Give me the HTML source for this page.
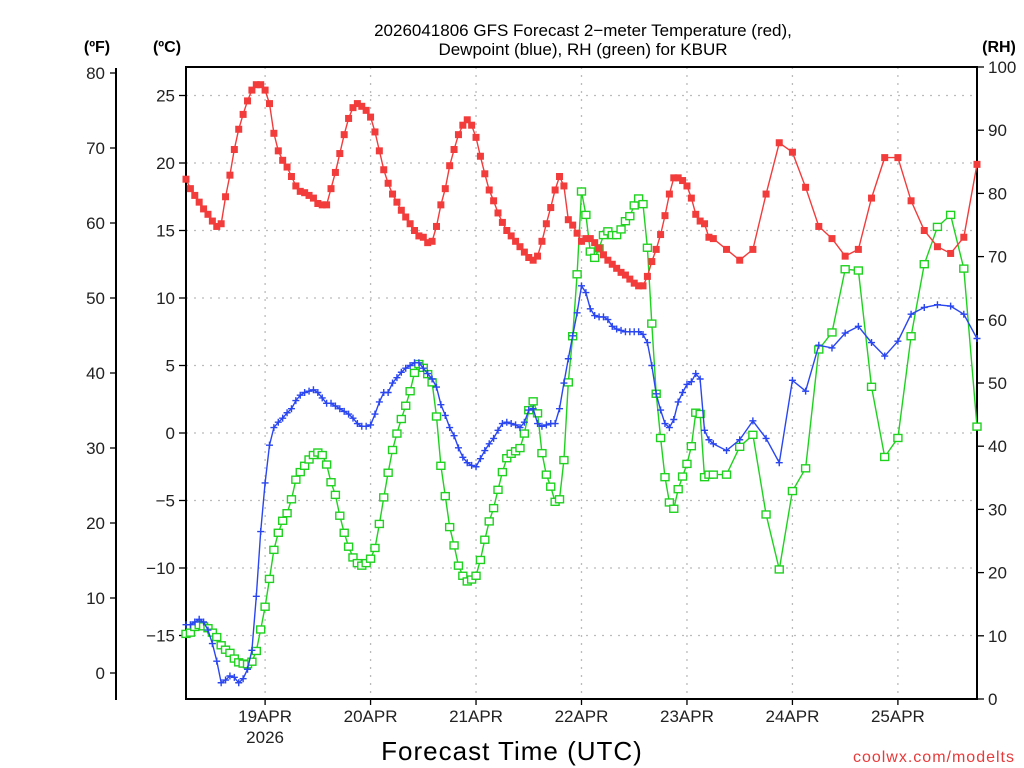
<!DOCTYPE html>
<html><head><meta charset="utf-8"><style>
html,body{margin:0;padding:0;background:#fff;}
svg{display:block;font-family:"Liberation Sans",sans-serif;}
</style></head><body>
<svg id="chart" width="1024" height="768" viewBox="0 0 1024 768" xmlns="http://www.w3.org/2000/svg">
<text x="583" y="36" font-size="17" text-anchor="middle">2026041806 GFS Forecast 2−meter Temperature (red),</text>
<text x="583" y="55" font-size="17" text-anchor="middle">Dewpoint (blue), RH (green) for KBUR</text>
<text x="97" y="52" font-size="16" font-weight="bold" text-anchor="middle">(ºF)</text>
<text x="167" y="52" font-size="16" font-weight="bold" text-anchor="middle">(ºC)</text>
<text x="999" y="52" font-size="16" font-weight="bold" text-anchor="middle">(RH)</text>
<text x="512" y="760" font-size="26" text-anchor="middle" letter-spacing="1">Forecast Time (UTC)</text>
<text x="1015" y="762" font-size="16" fill="#e83a3a" text-anchor="end" letter-spacing="1">coolwx.com/modelts</text>
<g id="grid"></g><g id="axes"></g><g id="series"></g>
</svg>
<script>
const hours=[0,1,2,3,4,5,6,7,8,9,10,11,12,13,14,15,16,17,18,19,20,21,22,23,24,25,26,27,28,29,30,31,32,33,34,35,36,37,38,39,40,41,42,43,44,45,46,47,48,49,50,51,52,53,54,55,56,57,58,59,60,61,62,63,64,65,66,67,68,69,70,71,72,73,74,75,76,77,78,79,80,81,82,83,84,85,86,87,88,89,90,91,92,93,94,95,96,97,98,99,100,101,102,103,104,105,106,107,108,109,110,111,112,113,114,115,116,117,118,119,120,123,126,129,132,135,138,141,144,147,150,153,156,159,162,165,168,171,174,177,180];
const tempC=[18.8,18.1,17.6,17.1,16.6,16.2,15.7,15.3,15.5,17.5,19.1,21.0,22.5,23.6,24.6,25.4,25.8,25.8,25.4,24.4,22.2,20.9,20.2,19.7,19.0,18.3,17.9,17.8,17.6,17.4,17.0,16.9,16.9,18.1,19.3,20.7,22.1,23.3,24.1,24.4,24.2,23.9,23.4,22.3,
20.9,19.5,18.5,17.7,17.1,16.5,16.0,15.5,15.0,14.6,14.5,14.1,14.2,15.3,16.9,18.1,19.8,21.0,22.1,22.8,23.2,22.8,21.9,20.5,19.2,18.0,17.2,16.3,15.6,15.0,14.6,14.2,13.8,13.4,13.0,12.8,13.1,14.2,15.5,16.7,18.0,19.0,18.3,15.8,
15.4,14.8,14.2,14.4,14.4,14.1,13.7,13.2,12.8,12.5,12.2,11.9,11.7,11.4,11.1,10.9,10.9,11.6,12.7,13.6,14.7,16.1,17.7,18.9,18.9,18.7,18.3,17.4,16.2,15.7,15.5,14.5,14.4,
13.6,12.8,13.6,17.7,21.5,20.8,18.2,15.3,14.4,13.1,13.6,17.4,20.4,20.4,17.2,15.0,13.8,13.3,14.5,19.9];
const dewC=[-14.2,-14.2,-14.0,-13.8,-14.0,-14.6,-15.6,-16.9,-18.5,-18.3,-18.0,-18.1,-18.5,-18.2,-17.5,-16.1,-12.1,-7.3,-3.7,-0.9,0.4,0.8,1.1,1.5,1.8,2.4,2.8,3.0,3.1,3.2,3.0,2.6,2.2,2.2,2.0,1.8,1.6,1.4,1.1,0.7,0.5,0.5,0.6,1.4,2.3,3.0,
3.0,3.7,4.1,4.5,4.8,5.0,5.2,5.2,4.8,4.4,4.0,3.4,2.1,1.3,0.4,-0.2,-1.1,-1.8,-2.2,-2.4,-2.5,-1.9,-1.3,-0.8,-0.4,0.2,0.7,0.8,0.7,0.6,0.4,0.8,1.7,1.8,0.7,0.5,0.6,0.7,0.7,1.8,3.7,5.5,
7.2,8.9,10.9,10.4,9.2,8.7,8.6,8.6,8.4,7.9,7.7,7.6,7.5,7.5,7.5,7.5,7.3,6.7,5.0,2.9,1.7,0.7,0.4,1.0,2.3,3.0,3.6,3.8,4.4,4.0,0.2,-0.5,-0.8,
-1.3,-0.5,0.9,-0.4,-2.2,3.9,3.1,6.5,6.3,7.4,7.9,6.7,5.7,6.8,8.8,9.3,9.5,9.4,8.8,7.0];
const rhPct=[10.3,10.5,11.4,11.7,11.5,11.2,10.5,9.8,8.5,7.8,7.3,6.4,5.8,5.6,5.5,5.9,7.6,11.0,14.6,19.0,23.6,26.3,28.2,29.4,31.6,34.7,35.9,36.9,37.9,38.6,39.0,38.6,37.1,34.3,32.3,29.0,26.3,24.1,22.4,21.5,21.1,21.5,22.2,23.9,
27.7,31.9,35.8,39.4,42.0,44.3,46.4,48.7,51.6,53.0,52.4,51.4,50.1,44.7,36.9,32.1,27.2,24.3,21.1,19.5,18.6,18.9,19.5,22.0,25.2,28.1,30.2,33.1,35.9,38.1,38.8,39.2,39.7,42.0,45.7,47.1,45.2,38.9,35.5,33.6,31.2,31.6,37.8,50.1,
57.4,67.2,80.3,76.6,70.8,69.8,71.3,73.4,74.0,73.4,73.4,74.3,75.6,76.4,78.1,79.2,78.3,71.4,59.4,48.3,41.3,35.1,31.1,30.1,33.2,35.2,37.2,40.0,45.3,45.1,35.1,35.5,35.5,
35.5,39.9,41.8,29.2,20.5,32.9,36.5,55.3,58.0,68.0,67.8,49.4,38.3,41.3,57.4,68.8,74.7,76.6,68.1,43.1];
const cTicks=[-15,-10,-5,0,5,10,15,20,25];
const fTicks=[0,10,20,30,40,50,60,70,80];
const rhTicks=[0,10,20,30,40,50,60,70,80,90,100];
const dayLabels=["19APR","20APR","21APR","22APR","23APR","24APR","25APR"];
const dayHours=[18,42,66,90,114,138,162];

const L=186,R=977,T=67,B=699;
const xS=h=>L+h*(R-L)/180;
const yC=c=>433-c*13.5;
const yF=f=>433-(f-32)*7.5;
const yRH=r=>B-r*(B-T)/100;
const NS="http://www.w3.org/2000/svg";
function mk(tag,attrs,parent,txt){const e=document.createElementNS(NS,tag);for(const k in attrs)e.setAttribute(k,attrs[k]);if(txt!==undefined)e.textContent=txt;parent.appendChild(e);return e;}
const grid=document.getElementById('grid'),axes=document.getElementById('axes'),ser=document.getElementById('series');
// grid
cTicks.forEach(c=>{const l=mk('line',{x1:L,x2:R,y1:yC(c),y2:yC(c),stroke:'#bbb','stroke-dasharray':'2,6','stroke-width':1.3},grid);

});
dayHours.forEach(h=>{const l=mk('line',{x1:xS(h),x2:xS(h),y1:T,y2:B,stroke:'#bbb','stroke-dasharray':'2,6','stroke-width':1.3},grid);

});
// plot frame
const fr=mk('rect',{x:L,y:T,width:R-L,height:B-T,fill:'none',stroke:'#000','stroke-width':2},axes);


// F axis
const fa=mk('line',{x1:116,x2:116,y1:68,y2:700,stroke:'#000','stroke-width':2},axes);


fTicks.forEach(f=>{mk('line',{x1:110,x2:116,y1:yF(f),y2:yF(f),stroke:'#000','stroke-width':1.3},axes);
const t=mk('text',{x:105,y:yF(f)+6,'font-size':17,'text-anchor':'end',fill:'#222'},axes,String(f));

});
cTicks.forEach(c=>{mk('line',{x1:179,x2:186,y1:yC(c),y2:yC(c),stroke:'#000','stroke-width':1.3},axes);
const t=mk('text',{x:175,y:yC(c)+6,'font-size':17,'text-anchor':'end',fill:'#222'},axes,c<0?'−'+Math.abs(c):String(c));

});
rhTicks.forEach(r=>{mk('line',{x1:R,x2:R+7,y1:yRH(r),y2:yRH(r),stroke:'#000','stroke-width':1.3},axes);
const t=mk('text',{x:988,y:yRH(r)+6,'font-size':17,'text-anchor':'start',fill:'#222'},axes,String(r));

});
dayHours.forEach((h,i)=>{mk('line',{x1:xS(h),x2:xS(h),y1:B,y2:B+6,stroke:'#000','stroke-width':1.3},axes);
const t=mk('text',{x:xS(h),y:722,'font-size':17,'text-anchor':'middle',fill:'#222'},axes,dayLabels[i]);

});
const yr=mk('text',{x:xS(18),y:743,'font-size':17,'text-anchor':'middle',fill:'#222'},axes,'2026');


// series
function drawSeries(vals,yf,color,kind,name){
  const g=mk('g',{},ser);
  
  
  const pts=vals.map((v,i)=>xS(hours[i]).toFixed(1)+','+yf(v).toFixed(1)).join(' ');
  const pl=mk('polyline',{points:pts,fill:'none',stroke:color,'stroke-width':1.4},g);
  
  
  vals.forEach((v,i)=>{const x=xS(hours[i]),y=yf(v);let m;
    if(kind==='fill'){m=mk('rect',{x:x-3.5,y:y-3.5,width:7,height:7,fill:color},g);}
    else if(kind==='open'){m=mk('rect',{x:x-4,y:y-3.5,width:8,height:7,fill:'#fff',stroke:color,'stroke-width':1.4},g);}
    else{m=mk('path',{d:`M${x-3.5},${y}H${x+3.5}M${x},${y-3.5}V${y+3.5}`,stroke:color,'stroke-width':1.4},g);}
    
    });
}
drawSeries(rhPct,yRH,'#1fd21f','open','rh-series');
drawSeries(dewC,yC,'#2a46f0','plus','dewpoint-series');
drawSeries(tempC,yC,'#f23c3c','fill','temperature-series');
</script>
</body></html>
